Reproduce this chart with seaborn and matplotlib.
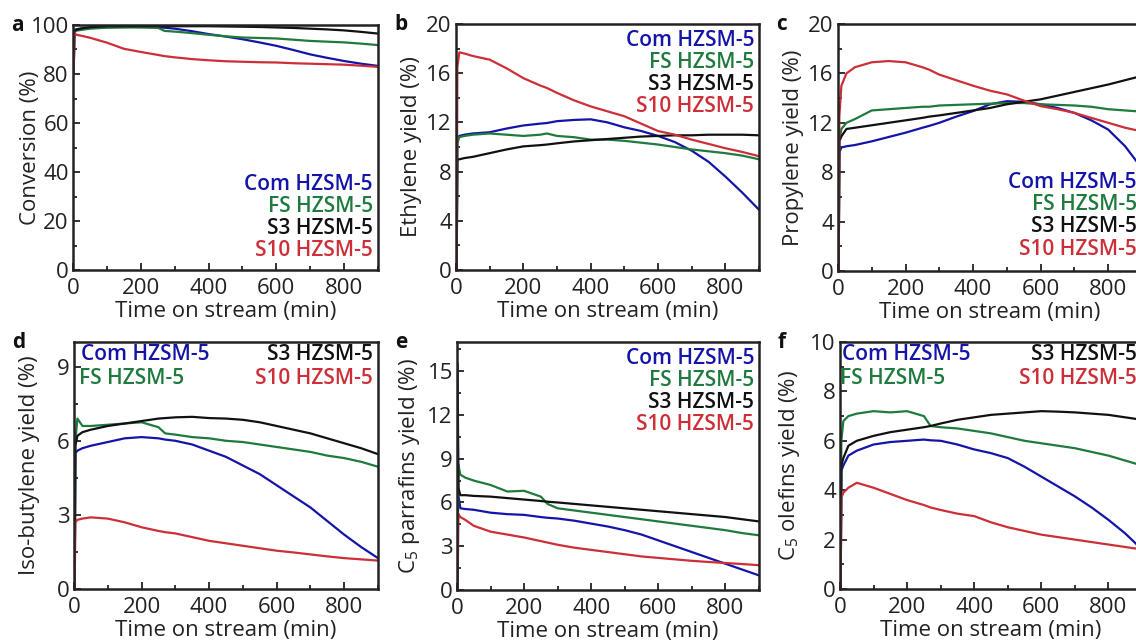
import numpy as np
import pandas as pd
import matplotlib
matplotlib.use("Agg")
import matplotlib.pyplot as plt
import seaborn as sns
from matplotlib.ticker import MultipleLocator

sns.set_theme(style="white")
plt.rcParams['font.family'] = ['Open Sans', 'DejaVu Sans']
plt.rcParams['mathtext.fontset'] = 'custom'
plt.rcParams['mathtext.rm'] = 'Open Sans'
plt.rcParams['mathtext.it'] = 'Open Sans:italic'

# ---------------- data ----------------
series = ["Com HZSM-5", "FS HZSM-5", "S3 HZSM-5", "S10 HZSM-5"]
colors = ["#1414a8", "#1f7a3e", "#111111", "#cc2f38"]

t = [2, 4, 10, 25, 50, 100, 150, 200, 250, 270, 300, 350, 400, 450, 500, 550,
     600, 650, 700, 750, 800, 850, 900]

# a: conversion
conv_com = [80, 98, 98.3, 98.6, 98.9, 99.1, 99.2, 99.2, 99.0, 98.9, 98.5, 97.5, 96.3, 95.3, 94.2, 92.9,
            91.5, 89.8, 88.0, 86.6, 85.3, 84.2, 83.3]
conv_fs = [80, 97.5, 97.7, 98.0, 98.5, 98.9, 99.0, 99.0, 98.9, 97.6, 97.3, 96.7, 96.0, 95.4, 94.9, 94.7,
           94.5, 94.0, 93.5, 93.2, 92.9, 92.4, 91.8]
conv_s3 = [80, 97.5, 98.0, 98.6, 99.1, 99.5, 99.5, 99.5, 99.5, 99.5, 99.5, 99.5, 99.5, 99.4, 99.3, 99.2,
           99.0, 98.8, 98.5, 98.2, 97.8, 97.2, 96.5]
conv_s10 = [80, 97.0, 96.0, 95.6, 94.8, 92.8, 90.3, 89.0, 87.8, 87.3, 86.8, 86.1, 85.6, 85.2, 85.0, 84.8,
            84.7, 84.4, 84.2, 84.0, 83.8, 83.4, 82.9]

# b: ethylene yield
eth_com = [0, 10.8, 10.9, 11.0, 11.1, 11.2, 11.5, 11.75, 11.9, 11.95, 12.1, 12.2, 12.25, 12.0, 11.6, 11.3,
           10.9, 10.4, 9.7, 8.8, 7.6, 6.3, 4.9]
eth_fs = [0, 10.3, 10.8, 10.9, 11.0, 11.1, 11.0, 10.9, 11.0, 11.1, 10.9, 10.8, 10.6, 10.6, 10.5, 10.35,
          10.2, 10.0, 9.8, 9.65, 9.5, 9.3, 9.0]
eth_s3 = [0, 9.0, 9.0, 9.1, 9.2, 9.5, 9.8, 10.05, 10.15, 10.2, 10.3, 10.45, 10.55, 10.65, 10.75, 10.85,
          10.9, 10.95, 10.95, 11.0, 11.0, 11.0, 10.95]
eth_s10 = [0, 16.5, 17.7, 17.6, 17.4, 17.1, 16.4, 15.6, 15.0, 14.8, 14.4, 13.8, 13.3, 12.9, 12.5, 11.9,
           11.3, 11.0, 10.6, 10.25, 9.9, 9.6, 9.25]

# c: propylene yield
pro_com = [0, 9.6, 10.0, 10.1, 10.2, 10.5, 10.85, 11.2, 11.6, 11.75, 12.0, 12.5, 12.95, 13.5, 13.75, 13.7,
           13.5, 13.2, 12.8, 12.2, 11.45, 10.1, 8.3]
pro_fs = [0, 10.5, 11.5, 12.0, 12.3, 13.0, 13.1, 13.2, 13.3, 13.3, 13.4, 13.45, 13.5, 13.55, 13.6, 13.6,
          13.5, 13.45, 13.4, 13.3, 13.1, 13.0, 12.9]
pro_s3 = [0, 10.5, 10.9, 11.5, 11.6, 11.8, 12.0, 12.2, 12.4, 12.5, 12.6, 12.8, 13.0, 13.2, 13.5, 13.7,
          13.9, 14.2, 14.5, 14.8, 15.1, 15.45, 15.8]
pro_s10 = [0, 12.5, 15.0, 16.0, 16.5, 16.9, 17.0, 16.9, 16.5, 16.3, 15.9, 15.45, 15.0, 14.6, 14.3, 13.8,
           13.35, 13.1, 12.8, 12.4, 12.0, 11.6, 11.3]

# d: iso-butylene yield
ib_com = [0, 5.5, 5.6, 5.7, 5.8, 5.95, 6.1, 6.15, 6.1, 6.05, 6.0, 5.85, 5.6, 5.35, 5.0, 4.65,
          4.2, 3.75, 3.3, 2.75, 2.2, 1.7, 1.25]
ib_fs = [0, 6.0, 6.9, 6.6, 6.6, 6.65, 6.7, 6.75, 6.55, 6.3, 6.25, 6.15, 6.1, 6.0, 5.95, 5.85,
         5.75, 5.65, 5.55, 5.4, 5.3, 5.15, 4.95]
ib_s3 = [0, 5.8, 6.2, 6.35, 6.45, 6.6, 6.7, 6.8, 6.9, 6.92, 6.95, 6.97, 6.92, 6.9, 6.85, 6.75,
         6.6, 6.45, 6.3, 6.1, 5.9, 5.7, 5.46]
ib_s10 = [0, 2.7, 2.8, 2.85, 2.9, 2.85, 2.7, 2.5, 2.35, 2.3, 2.25, 2.1, 1.95, 1.85, 1.75, 1.65,
          1.55, 1.48, 1.4, 1.32, 1.25, 1.2, 1.15]

# e: C5 paraffins yield
par_com = [15.5, 6.5, 5.6, 5.55, 5.5, 5.3, 5.2, 5.15, 5.0, 4.95, 4.9, 4.75, 4.55, 4.35, 4.1, 3.8,
           3.4, 3.0, 2.6, 2.2, 1.8, 1.4, 1.0]
par_fs = [0, 8.6, 7.9, 7.7, 7.5, 7.2, 6.75, 6.8, 6.4, 5.9, 5.6, 5.45, 5.3, 5.15, 5.0, 4.85,
          4.7, 4.55, 4.4, 4.25, 4.1, 3.9, 3.75]
par_s3 = [13.0, 7.0, 6.5, 6.5, 6.45, 6.4, 6.3, 6.2, 6.1, 6.05, 6.0, 5.9, 5.8, 5.7, 5.6, 5.5,
          5.4, 5.3, 5.2, 5.1, 5.0, 4.85, 4.7]
par_s10 = [0, 5.2, 5.0, 4.8, 4.4, 4.0, 3.8, 3.6, 3.35, 3.25, 3.1, 2.9, 2.75, 2.6, 2.45, 2.3,
           2.2, 2.1, 2.0, 1.92, 1.85, 1.78, 1.7]

# f: C5 olefins yield
ol_com = [0, 4.8, 5.0, 5.4, 5.6, 5.85, 5.95, 6.0, 6.05, 6.02, 6.0, 5.85, 5.65, 5.5, 5.3, 4.95,
          4.55, 4.15, 3.75, 3.3, 2.8, 2.25, 1.6]
ol_fs = [0, 6.0, 6.8, 7.0, 7.1, 7.2, 7.15, 7.2, 7.0, 6.6, 6.55, 6.5, 6.4, 6.3, 6.15, 6.0,
         5.9, 5.8, 5.7, 5.55, 5.4, 5.2, 5.0]
ol_s3 = [0, 5.0, 5.3, 5.8, 6.0, 6.2, 6.35, 6.45, 6.55, 6.6, 6.7, 6.85, 6.95, 7.05, 7.1, 7.15,
         7.2, 7.18, 7.15, 7.1, 7.05, 6.95, 6.85]
ol_s10 = [0, 3.7, 3.9, 4.1, 4.3, 4.1, 3.85, 3.6, 3.4, 3.3, 3.2, 3.05, 2.95, 2.7, 2.5, 2.35,
          2.2, 2.1, 2.0, 1.9, 1.8, 1.7, 1.6]

panels = [
    dict(letter="a", ylabel="Conversion (%)", data=[conv_com, conv_fs, conv_s3, conv_s10],
         ylim=(0, 100), major=20, minor=10, legend="br", lab=-42),
    dict(letter="b", ylabel="Ethylene yield (%)", data=[eth_com, eth_fs, eth_s3, eth_s10],
         ylim=(0, 20), major=4, minor=2, legend="tr", lab=-45),
    dict(letter="c", ylabel="Propylene yield (%)", data=[pro_com, pro_fs, pro_s3, pro_s10],
         ylim=(0, 20), major=4, minor=2, legend="br", lab=-44),
    dict(letter="d", ylabel="Iso-butylene yield (%)", data=[ib_com, ib_fs, ib_s3, ib_s10],
         ylim=(0, 10), major=3, minor=1.5, legend="split", lab=-44, lx=7),
    dict(letter="e", ylabel="C$_5$ parrafins yield (%)", data=[par_com, par_fs, par_s3, par_s10],
         ylim=(0, 17), major=3, minor=1.5, legend="tr", lab=-47),
    dict(letter="f", ylabel="C$_5$ olefins yield (%)", data=[ol_com, ol_fs, ol_s3, ol_s10],
         ylim=(0, 10), major=2, minor=1, legend="split", lab=-50, lx=2),
]

# axes boxes in pixels: left, right, top, bottom
W, H = 1136, 641
boxes = [(73, 378, 25, 270), (456, 759, 24, 270), (838, 1142, 24, 271),
         (74, 378, 342, 589), (457, 759, 342, 590), (840, 1142, 342, 589)]

fig = plt.figure(figsize=(W / 100, H / 100), dpi=100)

for p, (l, r, tp, b) in zip(panels, boxes):
    ax = fig.add_axes([l / W, 1 - b / H, (r - l) / W, (b - tp) / H])
    for name, vals, c in zip(series, p["data"], colors):
        df = pd.DataFrame({"t": t, "y": vals})
        sns.lineplot(data=df, x="t", y="y", color=c, lw=1.6, ax=ax, legend=False)
    ax.set_xlim(0, 900)
    ax.set_ylim(*p["ylim"])
    ax.xaxis.set_major_locator(MultipleLocator(200))
    ax.xaxis.set_minor_locator(MultipleLocator(100))
    ax.yaxis.set_major_locator(MultipleLocator(p["major"]))
    ax.yaxis.set_minor_locator(MultipleLocator(p["minor"]))
    ax.tick_params(which="both", direction="in", top=False, right=False,
                   bottom=True, left=True, colors="#222222", labelcolor="#222222",
                   width=1.3)
    ax.tick_params(which="major", length=5, labelsize=16)
    ax.tick_params(axis="x", which="major", pad=6)
    ax.tick_params(axis="y", which="major", pad=3)
    ax.tick_params(which="minor", length=3)
    for s in ax.spines.values():
        s.set_linewidth(1.8)
        s.set_color("#222222")
    hpx = b - tp
    wpx = r - l
    ax.set_xlabel("Time on stream (min)", fontsize=16, color="#222222", labelpad=1.5)
    ax.set_ylabel(p["ylabel"], fontsize=16, color="#222222")
    ax.yaxis.label.set_va("center")
    ax.yaxis.set_label_coords(p["lab"] / wpx, 0.5)
    ax.grid(False)

    # panel letter
    fig.text((l - 62) / W, 1 - (tp + 6) / H, p["letter"], fontsize=15,
             fontweight="bold", ha="left", va="baseline", color="#111111")

    # legend as coloured text
    fs = 15
    if p["legend"] == "br":
        ys = [184, 206, 228, 251]
        for name, c, yy in zip(series, colors, ys):
            ax.text(1 - 5 / wpx, 1 - (yy - 25) / hpx,
                    name, transform=ax.transAxes, ha="right", va="center",
                    color=c, fontsize=fs, fontweight="semibold")
    elif p["legend"] == "tr":
        offs = [16, 39, 61, 83]
        for name, c, o in zip(series, colors, offs):
            ax.text(1 - 5 / wpx, 1 - o / hpx, name, transform=ax.transAxes,
                    ha="right", va="center", color=c, fontsize=fs, fontweight="semibold")
    else:
        offs = [13, 37]
        lx = p["lx"]
        ax.text(lx / wpx, 1 - offs[0] / hpx, series[0], transform=ax.transAxes,
                ha="left", va="center", color=colors[0], fontsize=fs, fontweight="semibold")
        ax.text((lx - 2) / wpx, 1 - offs[1] / hpx, series[1], transform=ax.transAxes,
                ha="left", va="center", color=colors[1], fontsize=fs, fontweight="semibold")
        ax.text(1 - 5 / wpx, 1 - offs[0] / hpx, series[2], transform=ax.transAxes,
                ha="right", va="center", color=colors[2], fontsize=fs, fontweight="semibold")
        ax.text(1 - 5 / wpx, 1 - offs[1] / hpx, series[3], transform=ax.transAxes,
                ha="right", va="center", color=colors[3], fontsize=fs, fontweight="semibold")

fig.savefig("out.png", dpi=100)
